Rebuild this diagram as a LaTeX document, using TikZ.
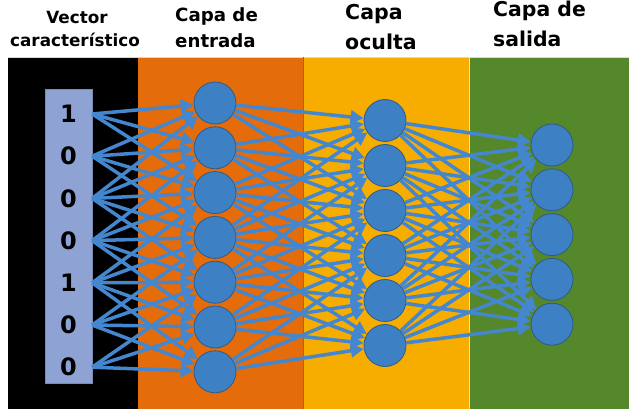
\documentclass[tikz,border=0pt]{standalone}
\usepackage{fontspec}
\setmainfont{DejaVu Sans}
\usepackage{tikz}
\usetikzlibrary{arrows.meta}

\definecolor{panelorange}{HTML}{E46C0A}
\definecolor{panelyellow}{HTML}{F6AD00}
\definecolor{panelgreen}{HTML}{55872B}
\definecolor{neuronblue}{HTML}{3E80C4}
\definecolor{neuronedge}{HTML}{2E5A8C}
\definecolor{linkblue}{HTML}{4487CE}
\definecolor{vectorbox}{HTML}{8FA2D4}

\begin{document}
\begin{tikzpicture}[x=1pt, y=-1pt,
    neuron/.style={circle, fill=neuronblue, draw=neuronedge, line width=0.8pt, minimum size=42pt, inner sep=0pt},
    link/.style={draw=linkblue, line width=3.5pt, -{Triangle[length=13pt, width=13pt]}},
    digit/.style={font=\fontsize{24}{24}\selectfont\bfseries, minimum width=47pt, inner sep=0pt},
    title/.style={anchor=base west, inner sep=0pt}]
    \useasboundingbox (0,0) rectangle (634,409);

    % Panels
    \fill[black] (8,57) rectangle (138,409);
    \fill[panelorange] (138,57) rectangle (303,409);
    \fill[panelyellow] (303,57) rectangle (469,409);
    \fill[panelgreen] (469,57) rectangle (629,409);
    \draw[gray!30, line width=0.8pt] (8,57) -- (629,57);
    \draw[panelorange!85!black, line width=0.6pt] (303,57) -- (303,409);
    \draw[panelyellow!40!white, line width=0.8pt] (469,57) -- (469,409);

    % Titles
    \node[font=\fontsize{16.8}{16.8}\selectfont\bfseries, anchor=base, inner sep=0pt] (vectorA) at (77,23.5) {Vector};
    \node[font=\fontsize{16.8}{16.8}\selectfont\bfseries, anchor=base, inner sep=0pt] (vectorB) at (75,46.5) {característico};
    \node[title, font=\fontsize{18.2}{18.2}\selectfont\bfseries] (entradaA) at (175,21.5) {Capa de};
    \node[title, font=\fontsize{18.2}{18.2}\selectfont\bfseries] (entradaB) at (175,48) {entrada};
    \node[title, font=\fontsize{20.5}{20.5}\selectfont\bfseries] (ocultaA) at (345,20) {Capa};
    \node[title, font=\fontsize{20.5}{20.5}\selectfont\bfseries] (ocultaB) at (345,50) {oculta};
    \node[title, font=\fontsize{20.4}{20.4}\selectfont\bfseries] (salidaA) at (493,17) {Capa de};
    \node[title, font=\fontsize{20.4}{20.4}\selectfont\bfseries] (salidaB) at (493,47) {salida};

    % Feature vector
    \draw[fill=vectorbox, draw=vectorbox!85!black, line width=0.6pt] (45,89) rectangle (92,383);
    \foreach \d [count=\i] in {1,0,0,0,1,0,0} {
        \node[digit] (v\i) at (68.5, {114+42.2*(\i-1)}) {\d};
    }

    % Layers
    \foreach \i in {1,...,7} {
        \node[neuron] (e\i) at (215, {103+44.8*(\i-1)}) {};
    }
    \foreach \j in {1,...,6} {
        \node[neuron] (h\j) at (385, {120.5+45*(\j-1)}) {};
    }
    \foreach \k in {1,...,5} {
        \node[neuron] (s\k) at (552, {145+44.8*(\k-1)}) {};
    }

    % Vector -> input layer
    \foreach \i in {1,...,7} {
        \foreach \j in {1,...,7} {
            \pgfmathtruncatemacro\gap{abs(\i-\j)}
            \ifnum\gap<3 \draw[link] (v\i.east) -- (e\j); \fi
        }
    }

    % Input layer -> hidden layer
    \foreach \i in {1,...,7} {
        \foreach \j in {1,...,6} {
            \pgfmathtruncatemacro\gap{abs(103+44.8*(\i-1)-120.5-45*(\j-1))}
            \ifnum\gap<125 \draw[link] (e\i) -- (h\j); \fi
        }
    }

    % Hidden layer -> output layer
    \foreach \j in {1,...,6} {
        \foreach \k in {1,...,5} {
            \pgfmathtruncatemacro\gap{abs(120.5+45*(\j-1)-145-44.8*(\k-1))}
            \ifnum\gap<160 \draw[link] (h\j) -- (s\k); \fi
        }
    }
\end{tikzpicture}
\end{document}
